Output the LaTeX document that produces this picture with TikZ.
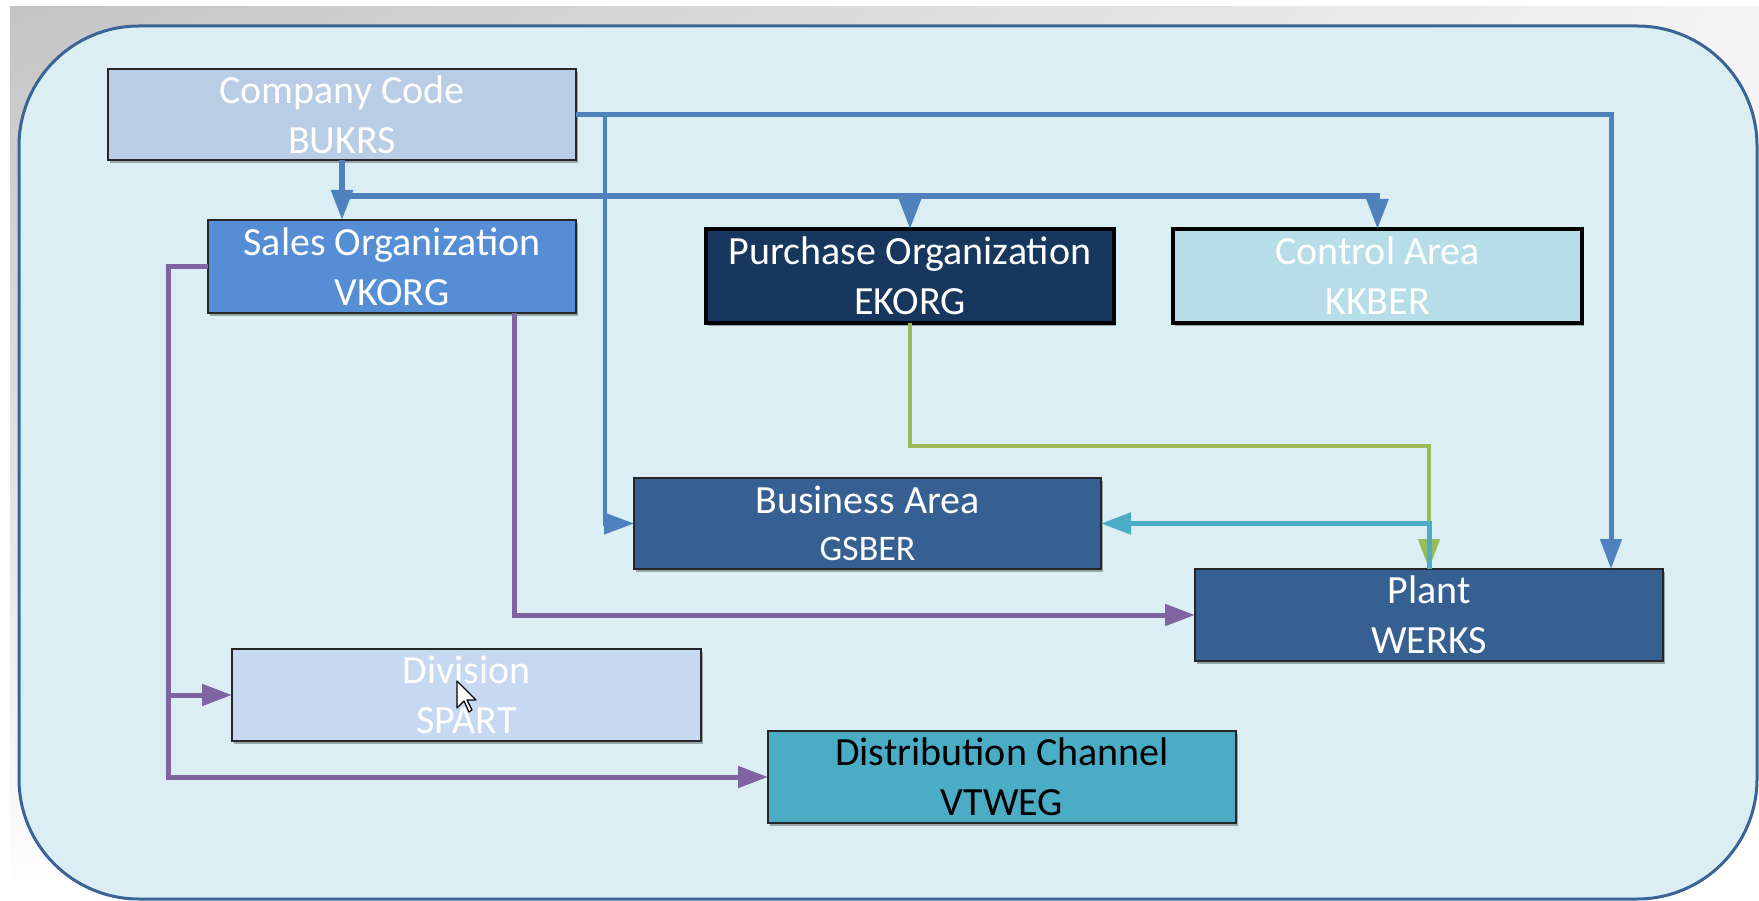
\documentclass[tikz,border=0pt]{standalone}
\usepackage{fontspec}
\setmainfont{Carlito}
\usetikzlibrary{arrows.meta,shadows,shadings}

\definecolor{bgblue}{HTML}{DBEEF4}
\definecolor{frameblue}{HTML}{3A6496}
\definecolor{boxline}{HTML}{262626}
\definecolor{ccfill}{HTML}{B9CDE5}
\definecolor{sofill}{HTML}{558ED5}
\definecolor{pofill}{HTML}{17375E}
\definecolor{cafill}{HTML}{B7DEE8}
\definecolor{darkfill}{HTML}{376092}
\definecolor{dvfill}{HTML}{C6D9F1}
\definecolor{dcfill}{HTML}{4BACC6}
\definecolor{linkblue}{HTML}{4F81BD}
\definecolor{linkpurple}{HTML}{8064A2}
\definecolor{linkgreen}{HTML}{9BBB59}
\definecolor{linkteal}{HTML}{4BACC6}
\definecolor{backdark}{RGB}{196,196,196}
\definecolor{backlight}{RGB}{244,244,244}

\begin{document}
\begin{tikzpicture}[x=1pt,y=-1pt,
  orgbox/.style={draw=boxline, line width=2pt, inner sep=0pt, outer sep=0pt,
    align=center, text=white, font=\fontsize{40pt}{50pt}\selectfont,
    drop shadow={shadow xshift=2pt, shadow yshift=-3pt, opacity=0.3, fill=black}},
  heavybox/.style={orgbox, draw=black, line width=3.5pt},
  link/.style={line width=5pt, -{Triangle[length=30pt,width=21pt]}},
  bluelink/.style={link, draw=linkblue},
  purplelink/.style={link, draw=linkpurple},
  greenlink/.style={link, line width=4.5pt, draw=linkgreen},
  teallink/.style={link, draw=linkteal}
]
\useasboundingbox (0,0) rectangle (1759,901);
\begin{scope}
\clip (0,0) rectangle (1759,901);
% page and window backdrop
\fill[white] (0,0) rectangle (1759,901);
\shade[upper left=backdark, upper right=backlight,
       lower left=white, lower right=white] (10,7) rectangle (1759,901);
% rounded panel
\draw[fill=bgblue, draw=frameblue, line width=3pt, rounded corners=120pt]
  (19,26) rectangle (1757,899);
\end{scope}

% organisational units
\node[orgbox, fill=ccfill, minimum width=468pt, minimum height=91pt]
  (cc) at (342,114.5) {Company Code\\BUKRS};
\node[orgbox, fill=sofill, minimum width=368pt, minimum height=93pt]
  (so) at (392,266.5) {Sales Organization\\VKORG};
\node[heavybox, fill=pofill, minimum width=408pt, minimum height=94pt]
  (po) at (910,276) {Purchase Organization\\EKORG};
\node[heavybox, fill=cafill, minimum width=409pt, minimum height=94pt]
  (ca) at (1377.5,276) {Control Area\\KKBER};
\node[orgbox, fill=darkfill, minimum width=467pt, minimum height=91pt]
  (ba) at (867.5,523.5) {Business Area\\[-3pt]{\fontsize{36pt}{47pt}\selectfont GSBER}};
\node[orgbox, fill=darkfill, minimum width=468pt, minimum height=92pt]
  (pl) at (1429,615) {Plant\\WERKS};
\node[orgbox, fill=dvfill, minimum width=469pt, minimum height=92pt]
  (dv) at (466.5,695) {Division\\SPART};
\node[orgbox, fill=dcfill, text=black, minimum width=468pt, minimum height=92pt]
  (dc) at (1002,777) {Distribution Channel\\VTWEG};

% bus points
\coordinate (ccbus) at (342,196);
\coordinate (pbus) at (168,266.5);
\coordinate (gturn) at (910,446);

% company code links
\draw[bluelink] (cc.east) -| ([xshift=182pt]pl.north);
\draw[bluelink, line width=4.5pt] ([xshift=29pt]cc.east) |- (ba.west);
\draw[bluelink, line width=5.5pt] (ccbus) -| (po.north);
\draw[bluelink, line width=5.5pt] (ccbus) -| (ca.north);
\draw[bluelink, line width=5.5pt] (cc.south) -- (cc.south |- so.north);

% sales organisation links
\draw[purplelink] (so.west) -| (pbus |- dc.west) -- (dc.west);
\draw[purplelink] (pbus |- dv.west) -- (dv.west);
\draw[purplelink] ([xshift=122pt]so.south) |- (pl.west);

% purchase organisation and plant links
\draw[greenlink] (po.south) -- (gturn) -| (pl.north);
\draw[teallink] (pl.north) |- (ba.east);

% mouse pointer
\draw[fill=white, draw=black, line width=1.2pt, line join=round]
  (457,681) -- ++(0,27) -- ++(7,-7) -- ++(5,11) -- ++(3,-2) -- ++(-5,-10) -- ++(9,0) -- cycle;
\end{tikzpicture}
\end{document}
